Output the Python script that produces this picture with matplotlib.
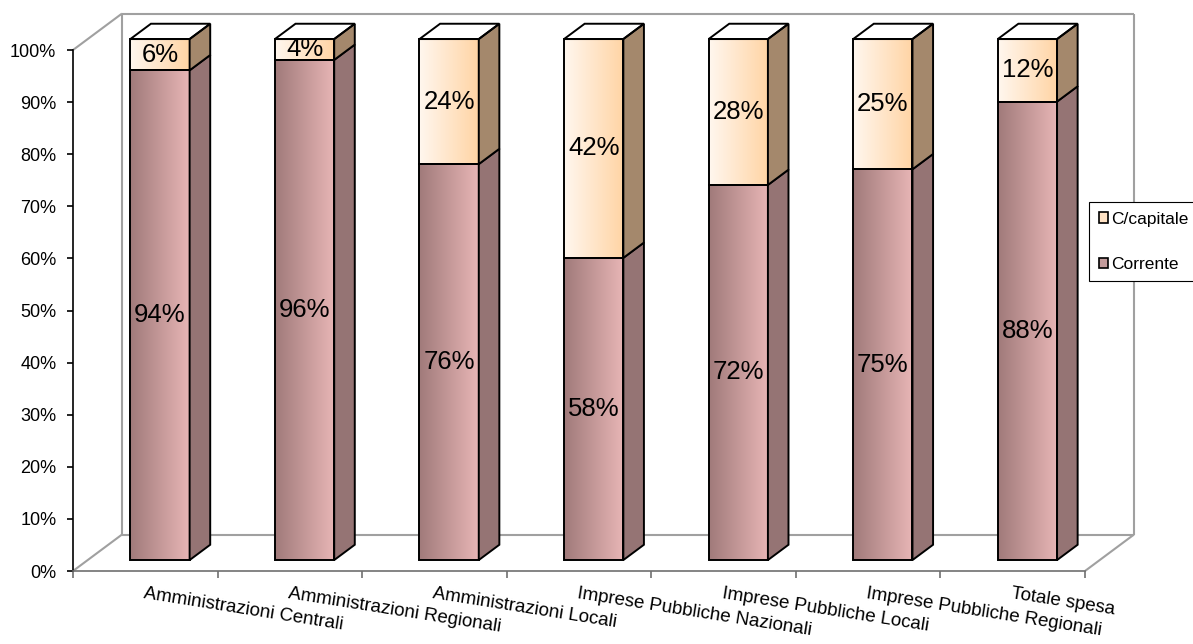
import numpy as np
import matplotlib
matplotlib.use("Agg")
import matplotlib.pyplot as plt
from matplotlib.colors import to_rgb
from matplotlib.patches import Polygon, Rectangle, Patch

plt.rcParams['font.family'] = ['Liberation Sans', 'DejaVu Sans']

# dati: ripartizione della spesa (corrente / conto capitale)
categorie = ['Amministrazioni Centrali', 'Amministrazioni Regionali',
             'Amministrazioni Locali', 'Imprese Pubbliche Nazionali',
             'Imprese Pubbliche Locali', 'Imprese Pubbliche Regionali',
             'Totale spesa']
corrente = [94, 96, 76, 58, 72, 75, 88]
capitale = [6, 4, 24, 42, 28, 25, 12]
etichette_y = [f'{v}%' for v in range(0, 101, 10)]

# profondita' della vista 3D (unita' di categoria / punti percentuali)
DX, DY = 0.339, 7.0
Z_FRONT, Z_BACK = 0.30, 0.72
HALF_W = 0.205
WALL = '#a0a0a0'


def proj(x, y, z):
    return x + z * DX, y + z * DY


def gradient(ax, x0, x1, y0, y1, c_left, c_right, clip=None, z=2):
    a, b = np.array(to_rgb(c_left)), np.array(to_rgb(c_right))
    t = np.linspace(0, 1, 256)[:, None]
    img = (a + (b - a) * t)[None, :, :]
    im = ax.imshow(img, extent=(x0, x1, y0, y1), aspect='auto',
                   interpolation='bilinear', origin='lower', zorder=z)
    if clip is not None:
        im.set_clip_path(clip)
    else:
        im.set_clip_on(False)
    return im


def segmento(ax, i, y0, y1, front, side, top=None):
    xl, xr = i + 0.5 - HALF_W, i + 0.5 + HALF_W
    fx0, fy0 = proj(xl, y0, Z_FRONT)
    fx1, fy1 = proj(xr, y1, Z_FRONT)
    gradient(ax, fx0, fx1, fy0, fy1, front[0], front[1])
    ax.add_patch(Rectangle((fx0, fy0), fx1 - fx0, fy1 - fy0, fill=False,
                           edgecolor='black', lw=1.4, zorder=3,
                           clip_on=False))
    lato = [proj(xr, y0, Z_FRONT), proj(xr, y0, Z_BACK),
            proj(xr, y1, Z_BACK), proj(xr, y1, Z_FRONT)]
    ax.add_patch(Polygon(lato, closed=True, facecolor=side,
                         edgecolor='black', lw=1.4, zorder=3,
                         clip_on=False))
    if top is not None:
        sopra = [proj(xl, y1, Z_FRONT), proj(xr, y1, Z_FRONT),
                 proj(xr, y1, Z_BACK), proj(xl, y1, Z_BACK)]
        poly = Polygon(sopra, closed=True, facecolor='none',
                       edgecolor='black', lw=1.4, zorder=5, clip_on=False)
        ax.add_patch(poly)
        tx0, ty0 = sopra[0]
        tx1, ty1 = sopra[2]
        gradient(ax, tx0, tx1, ty0, ty1, top[0], top[1], clip=poly, z=4)
    return (fx0 + fx1) / 2, (fy0 + fy1) / 2


fig = plt.figure(figsize=(11.93, 6.44), dpi=100)
ax = fig.add_axes([73 / 1193, 73 / 644, 1012 / 1193, 521 / 644])

# pareti di fondo e pavimento
pareti = [
    [(0, 100), proj(0, 100, 1)],
    [proj(0, 0, 1), proj(0, 100, 1)],
    [proj(0, 100, 1), proj(7, 100, 1)],
    [proj(7, 100, 1), proj(7, 0, 1)],
    [proj(0, 0, 1), proj(7, 0, 1)],
    [(0, 0), proj(0, 0, 1)],
    [(7, 0), proj(7, 0, 1)],
]
for p, q in pareti:
    ax.plot([p[0], q[0]], [p[1], q[1]], color=WALL, lw=1.5,
            clip_on=False, zorder=1, solid_capstyle='butt')

for i in range(len(categorie)):
    cx, cy = segmento(ax, i, 0, corrente[i],
                      ('#a07a7a', '#e8b6b6'), '#957474')
    ax.text(cx, cy, f'{corrente[i]}%', ha='center', va='center',
            fontsize=18.5, zorder=3.5)
    cx, cy = segmento(ax, i, corrente[i], corrente[i] + capitale[i],
                      ('#fff7ef', '#ffd4a4'), '#a4886c',
                      top=('#c6b5a3', '#a68a6e'))
    ax.text(cx, cy, f'{capitale[i]}%', ha='center', va='center',
            fontsize=18.5, zorder=3.5)

ax.set_xlim(0, 7)
ax.set_ylim(0, 100)
ax.set_facecolor('none')
for s in ['top', 'right']:
    ax.spines[s].set_visible(False)
ax.spines['left'].set_color('black')
ax.spines['bottom'].set_color('#707070')
ax.spines['left'].set_linewidth(1.2)
ax.spines['bottom'].set_linewidth(1.2)

ax.set_yticks(range(0, 101, 10))
ax.set_yticklabels(etichette_y, fontsize=13)
ax.tick_params(axis='y', length=4, width=1.2, pad=8, color='black')

ax.set_xticks(range(0, 8))
ax.set_xticklabels([])
ax.tick_params(axis='x', which='major', length=5, width=1.2, color='#707070')
ax.set_xticks([i + 0.5 for i in range(len(categorie))], minor=True)
ax.set_xticklabels(categorie, minor=True, fontsize=13.5)
ax.tick_params(axis='x', which='minor', length=0, pad=10)
plt.setp(ax.get_xticklabels(minor=True), rotation=-9, ha='left',
         rotation_mode='anchor')

handles = [Patch(facecolor='#ffe2c4', edgecolor='black', lw=1.2),
           Patch(facecolor='#c49c9c', edgecolor='black', lw=1.2)]
leg = ax.legend(handles, ['C/capitale', 'Corrente'], loc='upper left',
                bbox_to_anchor=(1089 / 1193, 1 - 202 / 644),
                bbox_transform=fig.transFigure, fontsize=12.5,
                frameon=True, fancybox=False, framealpha=1,
                edgecolor='black', handlelength=0.55, handleheight=0.55,
                handletextpad=0.2, labelspacing=1.75, borderpad=0.55,
                borderaxespad=0)
leg.get_frame().set_linewidth(0.8)
leg.set_zorder(10)

fig.savefig('out.png', dpi=100)
